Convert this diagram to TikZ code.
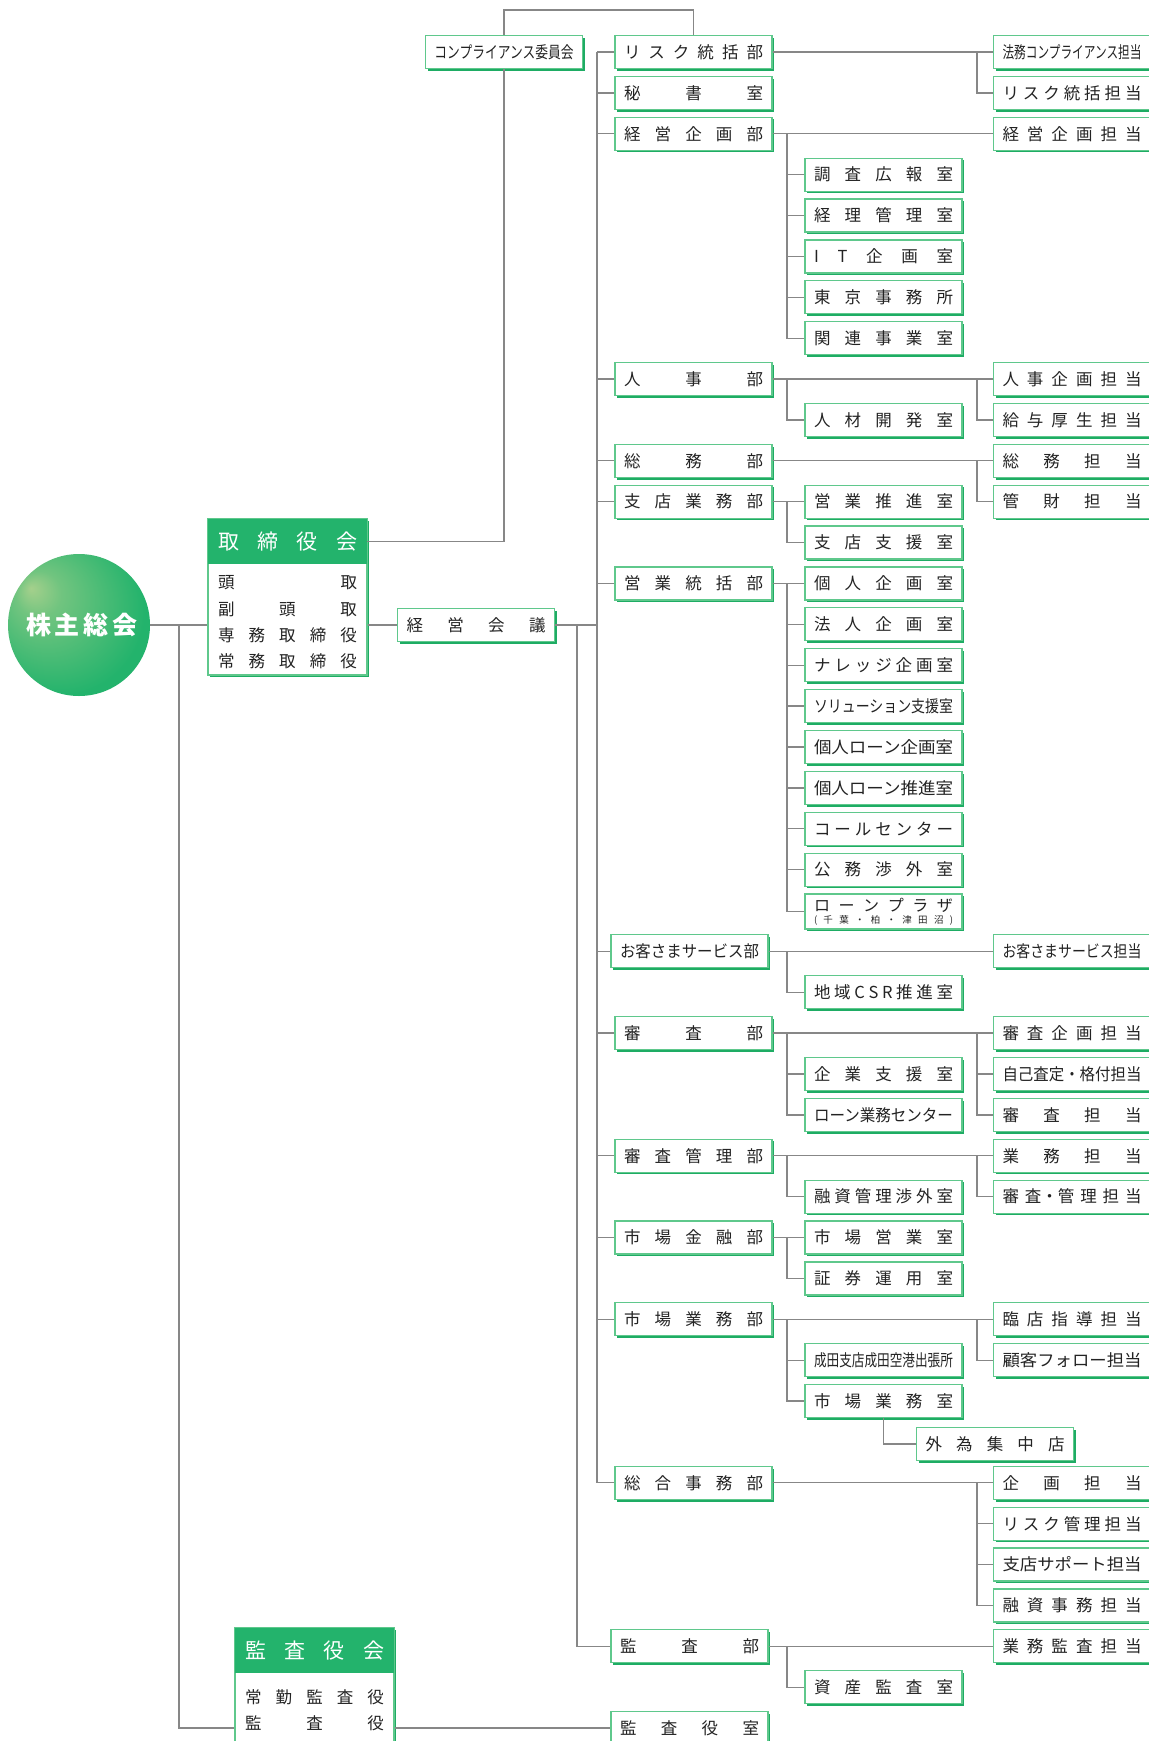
\documentclass[tikz,border=0pt]{standalone}
\usepackage{fontspec}
\setmainfont{Noto Sans CJK JP}
\usepackage{graphicx}
\usetikzlibrary{shadows}
\definecolor{gm}{RGB}{35,179,108}
\definecolor{gd}{RGB}{30,172,100}
\definecolor{gl}{RGB}{95,200,140}
\definecolor{hl}{RGB}{165,208,140}
\definecolor{tc}{RGB}{35,35,35}
\definecolor{lc}{RGB}{135,135,135}
\newcommand\jlab[1]{\makebox[139pt][s]{#1}}
\newcommand\flab[1]{\resizebox{139pt}{\height}{#1}}
\newcommand\rowy[1]{52+40.88*#1}
\pgfdeclareradialshading{kball}{\pgfpoint{-17bp}{13bp}}{color(0bp)=(hl); color(8bp)=(hl!60!gm); color(30bp)=(gm); color(50bp)=(gm)}
\tikzset{
  bx/.style={draw=gl, line width=1.2pt, fill=white, minimum width=157pt, minimum height=33pt,
    inner sep=0pt, text=tc, font=\fontsize{16.5}{18}\selectfont,
    drop shadow={opacity=1, fill=gd, shadow xshift=2.2pt, shadow yshift=-2.2pt}},
  bigbx/.style={draw=gl, line width=1.2pt, fill=white, minimum width=159pt, inner sep=0pt,
    drop shadow={opacity=1, fill=gd, shadow xshift=2.2pt, shadow yshift=-2.2pt}},
  hdr/.style={fill=gm, minimum width=159pt, minimum height=45pt, inner sep=0pt, text=white,
    font=\fontsize{21}{22}\selectfont},
  txt/.style={inner sep=0pt, text=tc, font=\fontsize{16.5}{18}\selectfont},
  ln/.style={draw=lc, line width=1.3pt}
}
\begin{document}
\begin{tikzpicture}[x=1pt,y=-1pt]
\useasboundingbox (0,0) rectangle (1149,1741);
\clip (0,0) rectangle (1149,1741);
\fill[white] (0,0) rectangle (1149,1741);

% spine coordinates
\coordinate (vl) at (179,0);
\coordinate (sq) at (577,0);
\coordinate (sp) at (597,0);
\coordinate (sb) at (787,0);
\coordinate (sc) at (977,0);
\coordinate (topc) at (600,10);

% circle
\node[circle, minimum size=142pt, inner sep=0pt, shading=kball, text=white,
  font=\fontsize{25}{26}\selectfont\bfseries] (kabu) at (79,625) {\makebox[106pt][s]{株 主 総 会}};

% board of directors
\node[bigbx, minimum height=156pt] (torib) at (287.5,597) {};
\node[hdr] (torih) at (287.5,541.5) {\jlab{取 締 役 会}};
\node[txt] (tr1) at (287.5,583) {\jlab{頭 取}};
\node[txt] (tr2) at (287.5,609) {\jlab{副 頭 取}};
\node[txt] (tr3) at (287.5,635) {\jlab{専 務 取 締 役}};
\node[txt] (tr4) at (287.5,661) {\jlab{常 務 取 締 役}};

% audit board
\node[bigbx, minimum height=132pt] (kanb) at (314.5,1694) {};
\node[hdr] (kanh) at (314.5,1650.5) {\jlab{監 査 役 会}};
\node[txt] (kr1) at (314.5,1697) {\jlab{常 勤 監 査 役}};
\node[txt] (kr2) at (314.5,1723) {\jlab{監 査 役}};

% management meeting
\node[bx] (keiei) at (476,625) {\jlab{経 営 会 議}};
\node[bx] (comp) at (504,{\rowy{0}}) {\flab{コンプライアンス委員会}};

% column A
\node[bx] (risk) at (693.5,{\rowy{0}}) {\jlab{リ ス ク 統 括 部}};
\node[bx] (hisho) at (693.5,{\rowy{1}}) {\jlab{秘 書 室}};
\node[bx] (keikaku) at (693.5,{\rowy{2}}) {\jlab{経 営 企 画 部}};
\node[bx] (jinji) at (693.5,{\rowy{8}}) {\jlab{人 事 部}};
\node[bx] (soumu) at (693.5,{\rowy{10}}) {\jlab{総 務 部}};
\node[bx] (shiten) at (693.5,{\rowy{11}}) {\jlab{支 店 業 務 部}};
\node[bx] (eigyo) at (693.5,{\rowy{13}}) {\jlab{営 業 統 括 部}};
\node[bx] (okyaku) at (689.5,{\rowy{22}}) {\flab{お客さまサービス部}};
\node[bx] (shinsa) at (693.5,{\rowy{24}}) {\jlab{審 査 部}};
\node[bx] (shinkan) at (693.5,{\rowy{27}}) {\jlab{審 査 管 理 部}};
\node[bx] (ichikin) at (693.5,{\rowy{29}}) {\jlab{市 場 金 融 部}};
\node[bx] (ichigyo) at (693.5,{\rowy{31}}) {\jlab{市 場 業 務 部}};
\node[bx] (sougou) at (693.5,{\rowy{35}}) {\jlab{総 合 事 務 部}};
\node[bx] (kansabu) at (689.5,{\rowy{39}}) {\jlab{監 査 部}};
\node[bx] (kshitsu) at (689.5,{\rowy{41}}) {\jlab{監 査 役 室}};

% column B
\node[bx] (chousa) at (883.5,{\rowy{3}}) {\jlab{調 査 広 報 室}};
\node[bx] (keiri) at (883.5,{\rowy{4}}) {\jlab{経 理 管 理 室}};
\node[bx] (itk) at (883.5,{\rowy{5}}) {\jlab{I T 企 画 室}};
\node[bx] (tokyo) at (883.5,{\rowy{6}}) {\jlab{東 京 事 務 所}};
\node[bx] (kanren) at (883.5,{\rowy{7}}) {\jlab{関 連 事 業 室}};
\node[bx] (jinzai) at (883.5,{\rowy{9}}) {\jlab{人 材 開 発 室}};
\node[bx] (suishin) at (883.5,{\rowy{11}}) {\jlab{営 業 推 進 室}};
\node[bx] (shien) at (883.5,{\rowy{12}}) {\jlab{支 店 支 援 室}};
\node[bx] (kojin) at (883.5,{\rowy{13}}) {\jlab{個 人 企 画 室}};
\node[bx] (houjin) at (883.5,{\rowy{14}}) {\jlab{法 人 企 画 室}};
\node[bx] (knowl) at (883.5,{\rowy{15}}) {\jlab{ナ レ ッ ジ 企 画 室}};
\node[bx] (solu) at (883.5,{\rowy{16}}) {\flab{ソリューション支援室}};
\node[bx] (plk) at (883.5,{\rowy{17}}) {\flab{個人ローン企画室}};
\node[bx] (pls) at (883.5,{\rowy{18}}) {\flab{個人ローン推進室}};
\node[bx] (call) at (883.5,{\rowy{19}}) {\jlab{コ ー ル セ ン タ ー}};
\node[bx] (koumu) at (883.5,{\rowy{20}}) {\jlab{公 務 渉 外 室}};
\node[bx, minimum height=35pt] (plaza) at (883.5,{\rowy{21}+1}) {};
\node[txt, font=\fontsize{16}{17}\selectfont] (plaza1) at (883.5,{\rowy{21}-5}) {\jlab{ロ ー ン プ ラ ザ}};
\node[txt, font=\fontsize{9.5}{10}\selectfont] (plaza2) at (883.5,{\rowy{21}+10}) {\jlab{( 千 葉 ・ 柏 ・ 津 田 沼 )}};
\node[bx] (csr) at (883.5,{\rowy{23}}) {\jlab{地 域 C S R 推 進 室}};
\node[bx] (kigyo) at (883.5,{\rowy{25}}) {\jlab{企 業 支 援 室}};
\node[bx] (loangyo) at (883.5,{\rowy{26}}) {\flab{ローン業務センター}};
\node[bx] (yushikan) at (883.5,{\rowy{28}}) {\jlab{融 資 管 理 渉 外 室}};
\node[bx] (ichiei) at (883.5,{\rowy{29}}) {\jlab{市 場 営 業 室}};
\node[bx] (shouken) at (883.5,{\rowy{30}}) {\jlab{証 券 運 用 室}};
\node[bx] (narita) at (883.5,{\rowy{32}}) {\flab{成田支店成田空港出張所}};
\node[bx] (ichishitsu) at (883.5,{\rowy{33}}) {\jlab{市 場 業 務 室}};
\node[bx] (gaitame) at (995,{\rowy{34}+2}) {\jlab{外 為 集 中 店}};
\node[bx] (shisan) at (883.5,{\rowy{40}}) {\jlab{資 産 監 査 室}};

% column C
\node[bx] (houmu) at (1072,{\rowy{0}}) {\flab{法務コンプライアンス担当}};
\node[bx] (riskt) at (1072,{\rowy{1}}) {\jlab{リ ス ク 統 括 担 当}};
\node[bx] (keikakut) at (1072,{\rowy{2}}) {\jlab{経 営 企 画 担 当}};
\node[bx] (jinjit) at (1072,{\rowy{8}}) {\jlab{人 事 企 画 担 当}};
\node[bx] (kyuyo) at (1072,{\rowy{9}}) {\jlab{給 与 厚 生 担 当}};
\node[bx] (soumut) at (1072,{\rowy{10}}) {\jlab{総 務 担 当}};
\node[bx] (kanzai) at (1072,{\rowy{11}}) {\jlab{管 財 担 当}};
\node[bx] (okyakut) at (1072,{\rowy{22}}) {\flab{お客さまサービス担当}};
\node[bx] (shinsakt) at (1072,{\rowy{24}}) {\jlab{審 査 企 画 担 当}};
\node[bx] (jikot) at (1072,{\rowy{25}}) {\flab{自己査定・格付担当}};
\node[bx] (shinsat) at (1072,{\rowy{26}}) {\jlab{審 査 担 当}};
\node[bx] (gyomut) at (1072,{\rowy{27}}) {\jlab{業 務 担 当}};
\node[bx] (shinkant) at (1072,{\rowy{28}}) {\jlab{審 査・管 理 担 当}};
\node[bx] (rinten) at (1072,{\rowy{31}}) {\jlab{臨 店 指 導 担 当}};
\node[bx] (kokyaku) at (1072,{\rowy{32}}) {\flab{顧客フォロー担当}};
\node[bx] (kikakut) at (1072,{\rowy{35}}) {\jlab{企 画 担 当}};
\node[bx] (riskkt) at (1072,{\rowy{36}}) {\jlab{リ ス ク 管 理 担 当}};
\node[bx] (support) at (1072,{\rowy{37}}) {\flab{支店サポート担当}};
\node[bx] (yushit) at (1072,{\rowy{38}}) {\jlab{融 資 事 務 担 当}};
\node[bx] (gyokansa) at (1072,{\rowy{39}}) {\jlab{業 務 監 査 担 当}};

% ---------- connectors ----------
\draw[ln] (kabu.east) -- (kabu.east -| torib.west);
\draw[ln] (kabu.east -| vl) |- (kshitsu.west -| kanb.west);
\draw[ln] (kshitsu.west -| kanb.east) -- (kshitsu.west);
\draw[ln] (keiei.west -| torib.east) -- (keiei.west);
\draw[ln] (torih.east) -| (comp.south);
\draw[ln] (comp.north) |- (topc) -| (risk.north);
\draw[ln] (keiei.east) -- (keiei.east -| sp);
\draw[ln] (risk.west -| sp) -- (sougou.west -| sp);
\draw[ln] (keiei.east -| sq) |- (kansabu.west);
\foreach \n in {risk,hisho,keikaku,jinji,soumu,shiten,eigyo,okyaku,shinsa,shinkan,ichikin,ichigyo,sougou}
  \draw[ln] (\n.west -| sp) -- (\n.west);

% A -> C main lines
\foreach \a/\c in {risk/houmu,keikaku/keikakut,jinji/jinjit,soumu/soumut,okyaku/okyakut,shinsa/shinsakt,shinkan/gyomut,ichigyo/rinten,sougou/kikakut,kansabu/gyokansa}
  \draw[ln] (\a.east) -- (\c.west);
% A -> B direct
\foreach \a/\b in {shiten/suishin,eigyo/kojin,ichikin/ichiei}
  \draw[ln] (\a.east) -- (\b.west);

% B spines
\draw[ln] (keikaku.east -| sb) |- (kanren.west);
\foreach \b in {chousa,keiri,itk,tokyo} \draw[ln] (\b.west -| sb) -- (\b.west);
\draw[ln] (jinji.east -| sb) |- (jinzai.west);
\draw[ln] (suishin.west -| sb) |- (shien.west);
\draw[ln] (kojin.west -| sb) |- (plaza.west);
\foreach \b in {houjin,knowl,solu,plk,pls,call,koumu} \draw[ln] (\b.west -| sb) -- (\b.west);
\draw[ln] (okyaku.east -| sb) |- (csr.west);
\draw[ln] (shinsa.east -| sb) |- (loangyo.west);
\draw[ln] (kigyo.west -| sb) -- (kigyo.west);
\draw[ln] (shinkan.east -| sb) |- (yushikan.west);
\draw[ln] (ichiei.west -| sb) |- (shouken.west);
\draw[ln] (ichigyo.east -| sb) |- (ichishitsu.west);
\draw[ln] (narita.west -| sb) -- (narita.west);
\draw[ln] (ichishitsu.south) |- (gaitame.west);
\draw[ln] (kansabu.east -| sb) |- (shisan.west);

% C spines
\draw[ln] (houmu.west -| sc) |- (riskt.west);
\draw[ln] (jinjit.west -| sc) |- (kyuyo.west);
\draw[ln] (soumut.west -| sc) |- (kanzai.west);
\draw[ln] (shinsakt.west -| sc) |- (shinsat.west);
\draw[ln] (jikot.west -| sc) -- (jikot.west);
\draw[ln] (gyomut.west -| sc) |- (shinkant.west);
\draw[ln] (rinten.west -| sc) |- (kokyaku.west);
\draw[ln] (kikakut.west -| sc) |- (yushit.west);
\foreach \c in {riskkt,support} \draw[ln] (\c.west -| sc) -- (\c.west);
\end{tikzpicture}
\end{document}
